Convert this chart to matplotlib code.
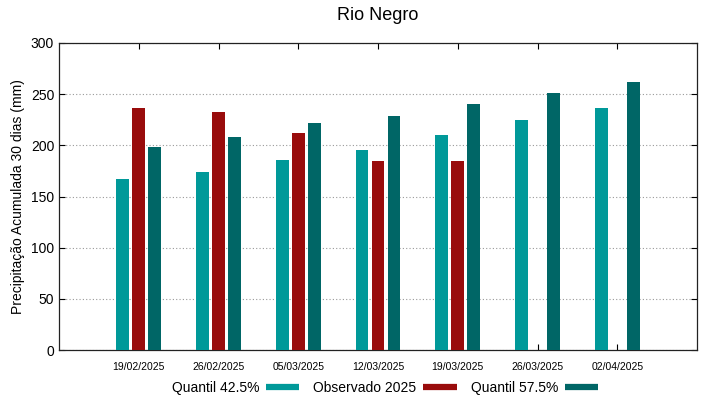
import matplotlib
matplotlib.use("Agg")
import matplotlib.pyplot as plt
from matplotlib.lines import Line2D
import numpy as np

plt.rcParams['font.family'] = ['Liberation Sans', 'DejaVu Sans']

dates = ["19/02/2025", "26/02/2025", "05/03/2025", "12/03/2025",
         "19/03/2025", "26/03/2025", "02/04/2025"]
q425 = [167.3, 173.8, 186.1, 195.8, 210.4, 225.1, 236.0]
obs2025 = [236.6, 232.7, 212.1, 185.1, 185.1, np.nan, np.nan]
q575 = [198.7, 208.2, 221.5, 228.3, 240.2, 251.0, 261.7]

c_q425 = "#009999"
c_obs = "#990c0c"
c_q575 = "#006666"

fig = plt.figure(figsize=(7.19, 3.99), dpi=100)
ax = fig.add_axes([59/719, 1-350/399, (697-59)/719, (350-43)/399])

x = np.arange(1, len(dates)+1)
w = 0.16
off = 0.2
ax.bar(x - off, q425, w, color=c_q425, zorder=3)
ax.bar(x, obs2025, w, color=c_obs, zorder=3)
ax.bar(x + off, q575, w, color=c_q575, zorder=3)

ax.set_xlim(0, 8)
ax.set_ylim(0, 300)
ax.set_yticks(np.arange(0, 301, 50))
ax.set_xticks(x)
ax.set_xticklabels(dates, fontsize=7.5)
ax.tick_params(axis='y', labelsize=10, direction='in', length=4, right=True)
ax.tick_params(axis='x', direction='in', length=4, top=True, pad=9)
ax.yaxis.grid(True, linestyle=(0, (1, 2)), color='#999999', linewidth=0.8, zorder=0)
ax.set_axisbelow(True)
for s in ax.spines.values():
    s.set_linewidth(0.9)
    s.set_color('#222222')

ax.set_ylabel("Precipitação Acumulada 30 dias (mm)", fontsize=10, labelpad=4)
fig.text(378/719, 1-16/399, "Rio Negro", ha='center', va='center', fontsize=13)

handles = [Line2D([], [], color=c, lw=4.5, solid_capstyle='butt') for c in (c_q425, c_obs, c_q575)]
labels = ["Quantil 42.5%", "Observado 2025", "Quantil 57.5%"]
fig.legend(handles, labels, loc='center', bbox_to_anchor=(385/719, 1-388/399),
           ncol=3, frameon=False, markerfirst=False, fontsize=10,
           handlelength=2.4, columnspacing=1.0, handletextpad=0.5)

fig.savefig("out.png", dpi=100)
